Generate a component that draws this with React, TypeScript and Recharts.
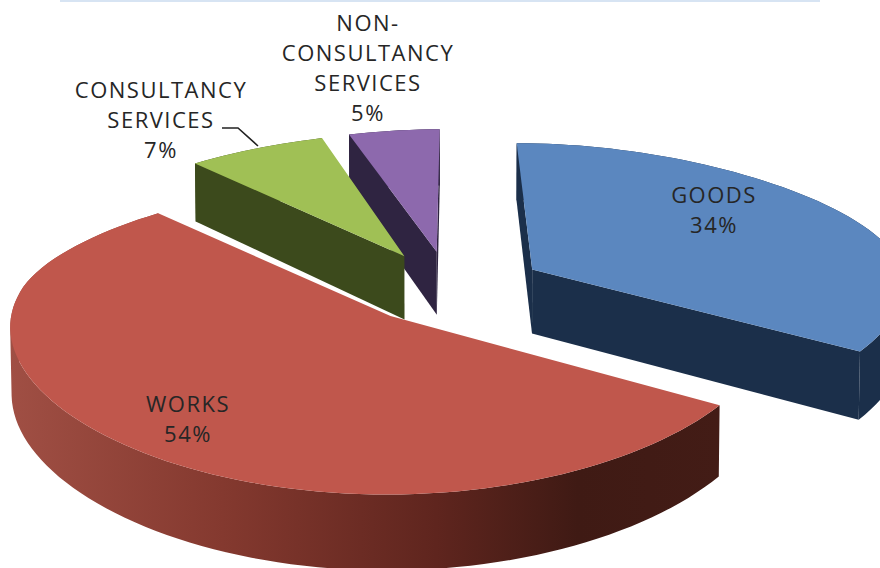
import { PieChart, Pie } from "recharts";

// listed from the top going counter-clockwise, so the front slices paint last
const categories = ["NON-CONSULTANCY SERVICES", "CONSULTANCY SERVICES", "WORKS", "GOODS"];
const shares = [5, 7, 54, 34];
const labelLines = [["NON-", "CONSULTANCY", "SERVICES"], ["CONSULTANCY", "SERVICES"], ["WORKS"], ["GOODS"]];

const topColors = ["#8d69ad", "#a0c055", "#c0574c", "#5b87bf"];
const sideColors = ["#2f2441", "#3c4a1c", "url(#worksSide)", "#1b2f4a"];
const labelAnchors = [
  { x: 368, y: 31 },
  { x: 161, y: 98 },
  { x: 188, y: 412 },
  { x: 714, y: 203 },
];

const data = categories.map((name, i) => ({ name, value: shares[i], fill: topColors[i] }));

// view of the tilted disc, all in units of the pie radius except DEPTH
const TILT = 0.392;
const PERSPECTIVE = 0.13;
const WIDEN = 0.06;
const SQUASH_FAR = 0.122;
const CONVERGE = 0.003;
const DEPTH = 65;
const EXPLODE = 0.25;
const RAD = Math.PI / 180;

type Pt = [number, number];

function pathOf(points: Pt[]) {
  return "M" + points.map((p) => `${p[0].toFixed(1)},${p[1].toFixed(1)}`).join("L") + "Z";
}

function signedArea(points: Pt[]) {
  let sum = 0;
  points.forEach((p, i) => {
    const q = points[(i + 1) % points.length];
    sum += p[0] * q[1] - q[0] * p[1];
  });
  return sum;
}

// extruded, exploded wedge on a plane seen in perspective
function Wedge(props: any) {
  const { cx, cy, outerRadius, startAngle, endAngle, fill, payload } = props;
  const index = categories.indexOf(payload?.name ?? props.name);
  const mid = ((startAngle + endAngle) / 2) * RAD;
  const offU = Math.cos(mid) * EXPLODE;
  const offV = -Math.sin(mid) * EXPLODE;

  const project = (u: number, v: number, z: number): Pt => {
    const fy = 1 / (1 - PERSPECTIVE * v + CONVERGE * z);
    // the far half narrows a little faster than the near half widens
    const far = v < 0 ? 1 - SQUASH_FAR * Math.pow(-v, 1.6) : 1;
    const fx = far / (1 - WIDEN * v + CONVERGE * z);
    return [cx + outerRadius * u * fx, cy + outerRadius * TILT * v * fy + DEPTH * z * fy];
  };
  const rim = (deg: number, z: number) =>
    project(offU + Math.cos(deg * RAD), offV - Math.sin(deg * RAD), z);
  const apex = (z: number) => project(offU, offV, z);

  const angles: number[] = [];
  const steps = Math.ceil(Math.abs(startAngle - endAngle) / 2);
  for (let i = 0; i <= steps; i++) {
    angles.push(startAngle + ((endAngle - startAngle) * i) / steps);
  }

  const topRim = angles.map((a) => rim(a, 0));
  const lowRim = angles.map((a) => rim(a, 1));
  // outer wall as same-winding quads, so the silhouette stays filled at the extremes
  const wall = angles
    .slice(1)
    .map((_, i) => {
      const quad: Pt[] = [topRim[i], topRim[i + 1], lowRim[i + 1], lowRim[i]];
      return pathOf(signedArea(quad) < 0 ? quad.reverse() : quad);
    })
    .join("");
  const startWall: Pt[] = [apex(0), rim(startAngle, 0), rim(startAngle, 1), apex(1)];
  const endWall: Pt[] = [apex(0), rim(endAngle, 0), rim(endAngle, 1), apex(1)];
  const side = sideColors[index];

  return (
    <g>
      <defs>
        <linearGradient id="worksSide" gradientUnits="userSpaceOnUse" x1={10} y1={0} x2={720} y2={0}>
          <stop offset="0" stopColor="#a04f44" />
          <stop offset="0.3" stopColor="#84392f" />
          <stop offset="0.6" stopColor="#5f251e" />
          <stop offset="0.8" stopColor="#3f1a14" />
          <stop offset="1" stopColor="#431c16" />
        </linearGradient>
      </defs>
      <path d={wall} fill={side} />
      {signedArea(startWall) > 0 && <path d={pathOf(startWall)} fill={side} />}
      {signedArea(endWall) < 0 && <path d={pathOf(endWall)} fill={side} />}
      <path d={pathOf([apex(0), ...topRim])} fill={fill} />
    </g>
  );
}

function SliceLabel(props: any) {
  const index = categories.indexOf(props.name ?? props.payload?.name);
  if (index < 0) return null;
  const { x, y } = labelAnchors[index];
  const lines = [...labelLines[index], `${shares[index]}%`];
  return (
    <g>
      {index === 1 && <path d="M222,128L238,128L258,146" fill="none" stroke="#222" strokeWidth={1.6} />}
      <text
        x={x}
        textAnchor="middle"
        fontFamily="'Open Sans', sans-serif"
        fontSize={22}
        fontWeight={500}
        letterSpacing={1.5}
        fill="#262626"
      >
        {lines.map((line, i) => (
          <tspan key={line} x={x} y={y + i * 30}>
            {line}
          </tspan>
        ))}
      </text>
    </g>
  );
}

export default function App() {
  return (
    <div style={{ position: "fixed", left: 0, top: 0, width: 880, height: 568, background: "#fff", overflow: "hidden" }}>
      <div style={{ position: "absolute", left: 60, top: 0, width: 760, height: 2, background: "#d7e4f3" }} />
      <PieChart width={880} height={568} margin={{ top: 0, right: 0, bottom: 0, left: 0 }}>
        <Pie
          data={data}
          dataKey="value"
          nameKey="name"
          cx={451}
          cy={287}
          outerRadius={375}
          startAngle={90}
          endAngle={450}
          stroke="none"
          shape={(p: any) => <Wedge {...p} />}
          label={(p: any) => <SliceLabel {...p} />}
          labelLine={false}
          isAnimationActive={false}
        />
      </PieChart>
    </div>
  );
}
